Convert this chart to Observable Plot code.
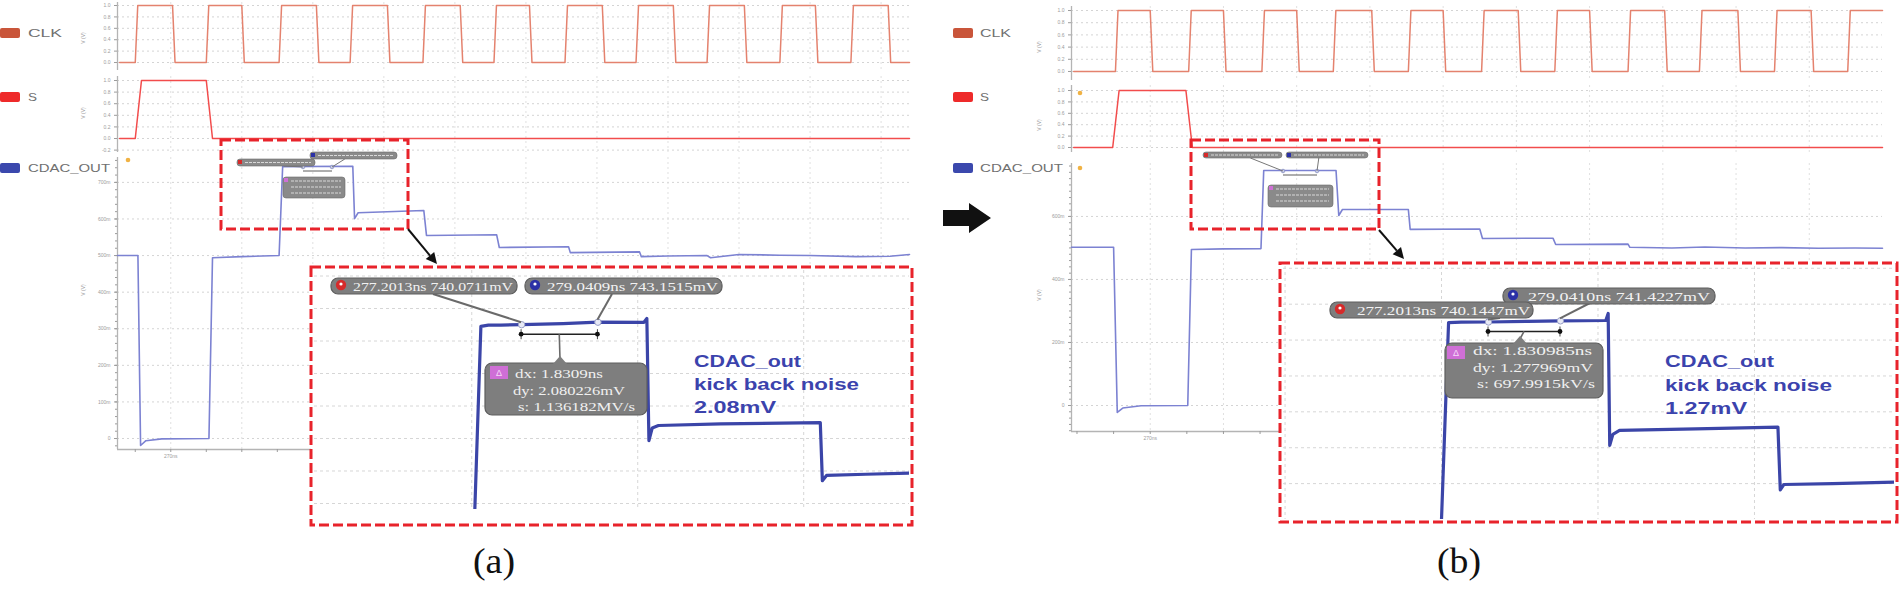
<!DOCTYPE html>
<html><head><meta charset="utf-8">
<script src="https://cdn.jsdelivr.net/npm/d3@7"></script>
<script src="https://cdn.jsdelivr.net/npm/@observablehq/plot@0.6"></script>
<style>
html,body{margin:0;padding:0;background:#fff;}
body{width:1900px;height:594px;position:relative;overflow:hidden;font-family:"Liberation Sans",Arial,sans-serif;}
</style></head><body>
<script>
// ---------------- DATA ----------------
const seriesNames = ["CLK", "S", "CDAC_OUT"];
const legendColors = ["#c9553a", "#ee2a2a", "#3b48ad"];
const traceColors = ["#e4826e", "#f24c4c", "#7c82d2"];

const timeDomainA = [267.0, 311.6];
const timeDomainB = [265.7, 310.0];

const clkRiseA = [268.0, 272.0, 276.1, 280.1, 284.2, 288.2, 292.2, 296.2, 300.2, 304.3, 308.3];
const clkFallA = [270.1, 274.0, 278.2, 282.2, 286.3, 290.2, 294.3, 298.3, 302.3, 306.3, 310.4];
const clkRiseB = [268.1, 272.1, 276.1, 280.0, 284.1, 288.1, 292.1, 296.1, 300.0, 304.1, 308.1];
const clkFallB = [270.0, 274.0, 278.0, 282.1, 286.0, 290.1, 294.0, 298.1, 302.1, 306.1];

const sRiseA = [268.0];
const sFallA = [272.0];
const sRiseB = [267.95];
const sFallB = [271.95];

const cdacTimeA = [267.0, 268.15, 268.3, 268.6, 269.5, 272.15, 272.35, 274.0, 276.1, 276.3, 280.25, 280.35, 280.55, 284.25, 284.4, 288.35, 288.5, 292.4, 292.5, 296.4, 296.5, 298.0, 300.2, 300.4, 302.0, 304.3, 306.0, 308.6, 310.5, 311.6];
const cdacMvA   = [500, 500, -19, -6, -1, 0, 494, 497, 500, 743, 744, 601, 617, 623, 555, 557, 522, 524, 508, 510, 497, 499, 500, 494, 503, 501, 500, 497, 498, 503];
const cdacTimeB = [265.7, 268.0, 268.2, 268.5, 269.5, 272.05, 272.25, 274.0, 276.05, 276.2, 280.15, 280.3, 280.5, 284.1, 284.2, 288.0, 288.15, 292.0, 292.15, 296.1, 296.2, 298.5, 300.3, 302.5, 304.5, 306.5, 308.5, 310.0];
const cdacMvB   = [502, 502, -22, -8, -1, 0, 495, 497, 498, 746, 746, 603, 622, 622, 559, 560, 530, 531, 511, 512, 502, 500, 503, 500, 501, 499, 500, 499];

const zoomTimeA = [276.04, 276.22, 276.4, 276.7, 277.2013, 278.2, 279.0409, 280.15, 280.22, 280.27, 280.35, 280.5, 282.0, 284.4, 284.45, 284.55, 285.5, 286.6];
const zoomMvA   = [460, 738, 739.5, 739.6, 740.07, 741.5, 743.15, 743.0, 747.7, 597.5, 613, 616, 618, 619.5, 548, 554.5, 556, 557.5];
const zoomTimeB = [275.95, 276.18, 276.5, 277.2013, 278.2, 279.041, 280.2, 280.26, 280.3, 280.38, 280.55, 282.5, 284.6, 284.66, 284.75, 286.0, 287.6];
const zoomMvB   = [460, 739.5, 740, 740.14, 740.8, 741.42, 741.8, 749.6, 602.6, 615, 619.3, 621, 623, 553, 559, 560, 561.6];

const cursorTimeA = [277.2013, 279.0409];
const cursorMvA   = [740.0711, 743.1515];
const cursorTimeB = [277.2013, 279.0410];
const cursorMvB   = [740.1447, 741.4227];
const cursorTextA = ["277.2013ns 740.0711mV", "279.0409ns 743.1515mV"];
const cursorTextB = ["277.2013ns 740.1447mV", "279.0410ns 741.4227mV"];
const deltaTextA = ["dx: 1.8309ns", "dy: 2.080226mV", "s: 1.136182MV/s"];
const deltaTextB = ["dx: 1.830985ns", "dy: 1.277969mV", "s: 697.9915kV/s"];
const noteTextA = ["CDAC_out", "kick back noise", "2.08mV"];
const noteTextB = ["CDAC_out", "kick back noise", "1.27mV"];

const clkTicks = [0, 0.2, 0.4, 0.6, 0.8, 1.0];
const sTicksA = [-0.2, 0, 0.2, 0.4, 0.6, 0.8, 1.0];
const sTicksB = [0, 0.2, 0.4, 0.6, 0.8, 1.0];
const cdacTicksA = [0, 100, 200, 300, 400, 500, 600, 700];
const cdacTicksB = [0, 200, 400, 600];
const timeTicks = [266, 268, 270, 272, 274, 276, 278, 280, 282, 284, 286, 288, 290, 292, 294, 296, 298, 300, 302, 304, 306, 308, 310];
const timeLabels = [270];
const mainGridTimes = [270, 274, 278, 282, 286, 290, 294, 298, 302, 306, 310];
const insetGridTimes = [272, 276, 280, 284];
const insetGridMv = [520, 560, 600, 640, 680, 720, 760, 800];
const axisUnitLabel = "V (V)";
const captions = ["(a)", "(b)"];

// ---------------- LAYOUT ----------------
const layoutA = {
  axisX: 117, right: 909, xDomain: timeDomainA,
  clk: {top: 2, bottom: 70, domain: [-0.14, 1.053]},
  s: {top: 76, bottom: 152, domain: [-0.241, 1.069]},
  cdac: {top: 157, bottom: 449, domain: [-30, 768]},
  legendX: 0, legendTextX: 28, legendTextW: [34, 9, 82], legendY: [33, 97, 168],
  vlabelX: 85, vlabelY: [38, 113, 290],
  inset: {left: 314, top: 270, right: 909, bottom: 509, box: [311, 267, 912, 525], xDomain: [272.21, 286.55], yDomain: [512.6, 806.8]},
  smallBox: [221, 140, 408, 229], arrow: [408, 229, 437, 264],
  cursorBox: [{x: 331, y: 278, w: 186, tx: 353, tw: 160, anchor: [433, 294], dot: "#d62a2a"},
              {x: 525, y: 278, w: 197, tx: 547, tw: 171, anchor: [612, 294], dot: "#2b31a6"}],
  drawOrder: [0, 1],
  deltaBox: {x: 485, y: 363, w: 162, h: 52, px: 560, icon: [490, 366],
             lines: [{x: 515, y: 378, w: 88}, {x: 513, y: 395, w: 112}, {x: 518, y: 411, w: 117}]},
  note: {x: 694, ys: [367, 390, 413], ws: [107, 165, 82]},
  caption: {x: 494, y: 573, w: 42},
  mini: {red: [237, 159, 78, 7], blue: [310, 152, 87, 7], delta: [283, 177, 62, 21], m: [[303, 167], [332, 167]]},
  orange: [[128, 160]]
};
const layoutB = {
  axisX: 1071, right: 1882, xDomain: timeDomainB,
  clk: {top: 6, bottom: 80, domain: [-0.148, 1.066]},
  s: {top: 85, bottom: 152, domain: [-0.088, 1.088]},
  cdac: {top: 163, bottom: 431, domain: [-82.5, 768]},
  legendX: 953, legendTextX: 980, legendTextW: [31, 9, 83], legendY: [33, 97, 168],
  vlabelX: 1041, vlabelY: [47, 125, 295],
  inset: {left: 1283, top: 266, right: 1894, bottom: 519, box: [1280, 263, 1897, 522], xDomain: [271.96, 287.58], yDomain: [520, 802]},
  smallBox: [1191, 140, 1379, 229], arrow: [1379, 230, 1404, 259],
  cursorBox: [{x: 1330, y: 302, w: 203, tx: 1357, tw: 173, anchor: [1500, 318], dot: "#d62a2a"},
              {x: 1503, y: 288, w: 212, tx: 1528, tw: 182, anchor: [1590, 303], dot: "#2b31a6"}],
  drawOrder: [1, 0],
  deltaBox: {x: 1445, y: 343, w: 158, h: 55, px: 1520, icon: [1447, 346],
             lines: [{x: 1473, y: 355, w: 119}, {x: 1473, y: 372, w: 120}, {x: 1477, y: 388, w: 118}]},
  note: {x: 1665, ys: [367, 391, 414], ws: [109, 167, 82]},
  caption: {x: 1459, y: 573, w: 44},
  mini: {red: [1203, 152, 79, 6], blue: [1286, 152, 82, 6], delta: [1268, 185, 65, 22], m: [[1283, 171], [1317, 171]]},
  orange: [[1080, 93], [1080, 168]]
};

// ---------------- HELPERS ----------------
function place(el, left, top) {
  el.style.position = "absolute";
  el.style.left = left + "px";
  el.style.top = top + "px";
  document.body.appendChild(el);
  return el;
}
function wave(rises, falls, t0, t1, edge) {
  const ev = rises.map(t => ({t, up: true})).concat(falls.map(t => ({t, up: false}))).sort((a, b) => a.t - b.t);
  let v = ev.length && ev[0].up ? 0 : 1;
  const pts = [{t: t0, v}];
  for (const e of ev) {
    pts.push({t: e.t, v});
    v = e.up ? 1 : 0;
    pts.push({t: e.t + edge, v});
  }
  pts.push({t: t1, v});
  return pts;
}
const zip = (ts, vs) => ts.map((t, i) => ({t, v: vs[i]}));

function makeStrip(L, s, pts, color, opt) {
  const mL = 40, mR = 2, mB = opt.xAxis ? 16 : 0;
  const marks = [
    Plot.gridY(opt.ticks, {stroke: "#d4d4d4", strokeOpacity: 1, strokeDasharray: "2,3"}),
    Plot.gridX(mainGridTimes.filter(t => t > L.xDomain[0] && t < L.xDomain[1]), {stroke: "#e0e0e0", strokeOpacity: 1, strokeDasharray: "2,3"}),
    Plot.ruleX([L.xDomain[0]], {stroke: "#b4b4b4", strokeWidth: 1.3})
  ];
  if (opt.minor) marks.push(Plot.axisY(opt.minor, {tickSize: 2, tickFormat: () => "", label: null}));
  marks.push(Plot.axisY(opt.ticks, {tickSize: 3, tickPadding: 4, tickFormat: opt.fmt, label: null}));
  if (opt.xAxis) {
    marks.push(Plot.ruleY([s.domain[0]], {stroke: "#b4b4b4", strokeWidth: 1.3}));
    marks.push(Plot.axisX(timeTicks.filter(t => t > L.xDomain[0] && t < L.xDomain[1]),
      {tickSize: 3, tickPadding: 2, label: null, tickFormat: d => timeLabels.includes(d) ? d + "ns" : ""}));
  }
  marks.push(Plot.line(pts, {x: "t", y: "v", stroke: color, strokeWidth: opt.sw || 1.5}));
  const xOpt = {domain: L.xDomain, label: null};
  if (!opt.xAxis) xOpt.axis = null;
  const chart = Plot.plot({
    width: (L.right - L.axisX) + mL + mR,
    height: (s.bottom - s.top) + mB,
    marginLeft: mL, marginRight: mR, marginTop: 0, marginBottom: mB,
    x: xOpt,
    y: {domain: s.domain, label: null},
    style: {background: "transparent", color: "#9c9c9c", fontSize: "5px", fontFamily: "Liberation Sans, sans-serif", overflow: "visible"},
    marks
  });
  place(chart, L.axisX - mL, s.top);
}

function makeInset(L, pts, cur) {
  const I = L.inset;
  const chart = Plot.plot({
    width: I.right - I.left, height: I.bottom - I.top,
    marginLeft: 0, marginRight: 0, marginTop: 0, marginBottom: 0,
    x: {domain: I.xDomain, axis: null, label: null},
    y: {domain: I.yDomain, axis: null, label: null},
    style: {background: "transparent", overflow: "visible"},
    marks: [
      Plot.gridX(insetGridTimes.filter(t => t > I.xDomain[0] && t < I.xDomain[1]), {stroke: "#d6d6d6", strokeOpacity: 1, strokeDasharray: "3,3"}),
      Plot.gridY(insetGridMv.filter(v => v > I.yDomain[0] && v < I.yDomain[1]), {stroke: "#d6d6d6", strokeOpacity: 1, strokeDasharray: "3,3"}),
      Plot.line(pts, {x: "t", y: "v", stroke: "#3b45a8", strokeWidth: 3.2, clip: true}),
      Plot.dot(cur, {x: "t", y: "v", r: 3.2, stroke: "#9aa0c8", fill: "#e8eaf6", strokeWidth: 1})
    ]
  });
  place(chart, I.left, I.top);
  const sx = chart.scale("x"), sy = chart.scale("y");
  return cur.map(d => [I.left + sx.apply(d.t), I.top + sy.apply(d.v)]);
}

function arrowHead(g, x1, y1, x2, y2, len, wid) {
  const a = Math.atan2(y2 - y1, x2 - x1);
  const bx = x2 - len * Math.cos(a), by = y2 - len * Math.sin(a);
  const nx = -Math.sin(a) * wid, ny = Math.cos(a) * wid;
  g.append("line").attr("x1", x1).attr("y1", y1).attr("x2", bx).attr("y2", by).attr("stroke", "#111").attr("stroke-width", 2);
  g.append("polygon").attr("points", `${x2},${y2} ${bx + nx},${by + ny} ${bx - nx},${by - ny}`).attr("fill", "#111");
}

function text(g, x, y, str, size, opts = {}) {
  const t = g.append("text").attr("x", x).attr("y", y).attr("font-size", size).text(str)
    .attr("font-family", opts.family || "Liberation Sans, sans-serif")
    .attr("fill", opts.fill || "#666");
  if (opts.weight) t.attr("font-weight", opts.weight);
  if (opts.anchor) t.attr("text-anchor", opts.anchor);
  if (opts.len) t.attr("textLength", opts.len).attr("lengthAdjust", "spacingAndGlyphs");
  return t;
}

// ---------------- BUILD ----------------
const panels = [
  {L: layoutA, clkR: clkRiseA, clkF: clkFallA, sR: sRiseA, sF: sFallA, cT: cdacTimeA, cV: cdacMvA, zT: zoomTimeA, zV: zoomMvA,
   curT: cursorTimeA, curV: cursorMvA, curTxt: cursorTextA, dTxt: deltaTextA, note: noteTextA, sTicks: sTicksA, cTicks: cdacTicksA, cap: captions[0]},
  {L: layoutB, clkR: clkRiseB, clkF: clkFallB, sR: sRiseB, sF: sFallB, cT: cdacTimeB, cV: cdacMvB, zT: zoomTimeB, zV: zoomMvB,
   curT: cursorTimeB, curV: cursorMvB, curTxt: cursorTextB, dTxt: deltaTextB, note: noteTextB, sTicks: sTicksB, cTicks: cdacTicksB, cap: captions[1]}
];

const fmtLogic = d => d.toFixed(1);
const fmtMv = d => d === 0 ? "0" : d + "m";

// main strips
for (const P of panels) {
  const L = P.L, t0 = L.xDomain[0] + 0.12, t1 = L.xDomain[1];
  makeStrip(L, L.clk, wave(P.clkR, P.clkF, t0, t1, 0.14), traceColors[0], {ticks: clkTicks, fmt: fmtLogic});
  makeStrip(L, L.s, wave(P.sR, P.sF, t0, t1, 0.35), traceColors[1], {ticks: P.sTicks, fmt: fmtLogic});
  const minor = d3.range(-80, 780, 20).filter(v => v >= L.cdac.domain[0] && v <= L.cdac.domain[1]);
  makeStrip(L, L.cdac, zip(P.cT, P.cV), traceColors[2], {ticks: P.cTicks, fmt: fmtMv, minor, xAxis: true, sw: 1.6});
}

// white inset backgrounds
const under = d3.create("svg").attr("width", 1900).attr("height", 594);
for (const P of panels) {
  const b = P.L.inset.box;
  under.append("rect").attr("x", b[0]).attr("y", b[1]).attr("width", b[2] - b[0]).attr("height", b[3] - b[1]).attr("fill", "#fff");
}
place(under.node(), 0, 0);

// insets
for (const P of panels) {
  P.markerPx = makeInset(P.L, zip(P.zT, P.zV), zip(P.curT, P.curV));
}

// overlay annotations
const svg = d3.create("svg").attr("width", 1900).attr("height", 594).style("overflow", "visible");
const red = "#e8232b";
for (const P of panels) {
  const L = P.L, g = svg.append("g");
  // legends
  seriesNames.forEach((n, i) => {
    g.append("rect").attr("x", L.legendX).attr("y", L.legendY[i] - 5).attr("width", 20).attr("height", 10).attr("rx", 2).attr("fill", legendColors[i]);
    text(g, L.legendTextX, L.legendY[i] + 4, n, 11, {fill: "#707070", len: L.legendTextW[i]});
  });
  // axis unit labels
  L.vlabelY.forEach(y => {
    text(g, 0, 0, axisUnitLabel, 5, {fill: "#9c9c9c", anchor: "middle"}).attr("transform", `translate(${L.vlabelX},${y}) rotate(-90)`);
  });
  // little orange flags
  L.orange.forEach(([x, y]) => g.append("circle").attr("cx", x).attr("cy", y).attr("r", 2.3).attr("fill", "#f0b244"));
  // mini callouts inside small box
  const M = L.mini;
  M.m.forEach(([x, y]) => g.append("circle").attr("cx", x).attr("cy", y).attr("r", 1.8).attr("fill", "#c8cbe8").attr("stroke", "#8890c0").attr("stroke-width", 0.8));
  g.append("line").attr("x1", M.red[0] + M.red[2] * 0.6).attr("y1", M.red[1] + M.red[3]).attr("x2", M.m[0][0]).attr("y2", M.m[0][1]).attr("stroke", "#777").attr("stroke-width", 1);
  g.append("line").attr("x1", M.blue[0] + M.blue[2] * 0.4).attr("y1", M.blue[1] + M.blue[3]).attr("x2", M.m[1][0]).attr("y2", M.m[1][1]).attr("stroke", "#777").attr("stroke-width", 1);
  g.append("line").attr("x1", M.m[0][0]).attr("y1", M.m[0][1] + 4).attr("x2", M.m[1][0]).attr("y2", M.m[1][1] + 4).attr("stroke", "#333").attr("stroke-width", 0.8);
  [["red", "#d62a2a"], ["blue", "#2b31a6"], ["delta", "#cf6fd6"]].forEach(([k, c]) => {
    const r = M[k];
    g.append("rect").attr("x", r[0]).attr("y", r[1]).attr("width", r[2]).attr("height", r[3]).attr("rx", 3).attr("fill", "#8a8a8a").attr("stroke", "#6a6a6a").attr("stroke-width", 0.6);
    g.append("rect").attr("x", r[0] + 1).attr("y", r[1] + 1).attr("width", 4).attr("height", 4).attr("fill", c);
    const lines = k === "delta" ? 3 : 1;
    for (let j = 0; j < lines; j++) {
      const yy = k === "delta" ? r[1] + 4 + j * 6 : r[1] + r[3] / 2;
      g.append("line").attr("x1", r[0] + 8).attr("x2", r[0] + r[2] - 4).attr("y1", yy).attr("y2", yy).attr("stroke", "#d8d8d8").attr("stroke-width", 1.2).attr("stroke-dasharray", "3,1");
    }
  });
  // small dashed box
  const sb = L.smallBox;
  g.append("rect").attr("x", sb[0]).attr("y", sb[1]).attr("width", sb[2] - sb[0]).attr("height", sb[3] - sb[1])
    .attr("fill", "none").attr("stroke", red).attr("stroke-width", 3).attr("stroke-dasharray", "10,4");
  // inset dashed box
  const b = L.inset.box;
  g.append("rect").attr("x", b[0]).attr("y", b[1]).attr("width", b[2] - b[0]).attr("height", b[3] - b[1])
    .attr("fill", "none").attr("stroke", red).attr("stroke-width", 3).attr("stroke-dasharray", "10,4");
  // arrow
  arrowHead(g, ...L.arrow, 11, 5.5);

  // cursors
  const mp = P.markerPx;
  L.drawOrder.forEach(i => {
    const c = L.cursorBox[i];
    g.append("line").attr("x1", c.anchor[0]).attr("y1", c.anchor[1]).attr("x2", mp[i][0]).attr("y2", mp[i][1] - 2).attr("stroke", "#6a6a6a").attr("stroke-width", 2);
  });
  L.drawOrder.forEach(i => {
    const c = L.cursorBox[i];
    g.append("rect").attr("x", c.x).attr("y", c.y).attr("width", c.w).attr("height", 16).attr("rx", 7).attr("fill", "#7e7e7e").attr("stroke", "#5e5e5e").attr("stroke-width", 1.2);
    g.append("circle").attr("cx", c.x + 10).attr("cy", c.y + 7).attr("r", 5.2).attr("fill", c.dot);
    g.append("circle").attr("cx", c.x + 10).attr("cy", c.y + 6).attr("r", 1.6).attr("fill", "#fff");
    text(g, c.tx, c.y + 12.5, P.curTxt[i], 13, {family: "Liberation Serif, serif", fill: "#f2f2f2", len: c.tw});
  });
  // measurement bar
  const barY = Math.max(mp[0][1], mp[1][1]) + 10;
  g.append("line").attr("x1", mp[0][0]).attr("x2", mp[1][0]).attr("y1", barY).attr("y2", barY).attr("stroke", "#222").attr("stroke-width", 1.6);
  mp.forEach(([x]) => {
    g.append("line").attr("x1", x).attr("x2", x).attr("y1", barY - 5).attr("y2", barY + 5).attr("stroke", "#444").attr("stroke-width", 1);
    g.append("circle").attr("cx", x).attr("cy", barY).attr("r", 2.4).attr("fill", "#111");
  });
  const cx = (mp[0][0] + mp[1][0]) / 2;
  const D = L.deltaBox;
  g.append("line").attr("x1", cx).attr("y1", barY).attr("x2", D.px).attr("y2", D.y - 4).attr("stroke", "#6a6a6a").attr("stroke-width", 1.6);
  g.append("rect").attr("x", D.x).attr("y", D.y).attr("width", D.w).attr("height", D.h).attr("rx", 7).attr("fill", "#7e7e7e").attr("stroke", "#5e5e5e").attr("stroke-width", 1.2);
  g.append("polygon").attr("points", `${D.px - 7},${D.y + 1} ${D.px},${D.y - 7} ${D.px + 7},${D.y + 1}`).attr("fill", "#7e7e7e");
  g.append("rect").attr("x", D.icon[0]).attr("y", D.icon[1]).attr("width", 18).attr("height", 13).attr("fill", "#cf6fd6");
  text(g, D.icon[0] + 9, D.icon[1] + 10, "Δ", 9, {fill: "#f6d8f8", anchor: "middle"});
  P.dTxt.forEach((s, j) => {
    const ln = D.lines[j];
    text(g, ln.x, ln.y, s, 12, {family: "Liberation Serif, serif", fill: "#f0f0f0", len: ln.w});
  });
  // note
  P.note.forEach((s, j) => text(g, L.note.x, L.note.ys[j], s, 17, {weight: "bold", fill: "#3b43ad", len: L.note.ws[j]}));
  // caption
  text(g, L.caption.x, L.caption.y, P.cap, 35, {family: "Liberation Serif, serif", fill: "#111", anchor: "middle", len: L.caption.w});
}
// big arrow between panels
svg.append("polygon").attr("points", "943,210 969,210 969,203 991,218 969,233 969,226 943,226").attr("fill", "#111");
place(svg.node(), 0, 0);
</script>
</body></html>
